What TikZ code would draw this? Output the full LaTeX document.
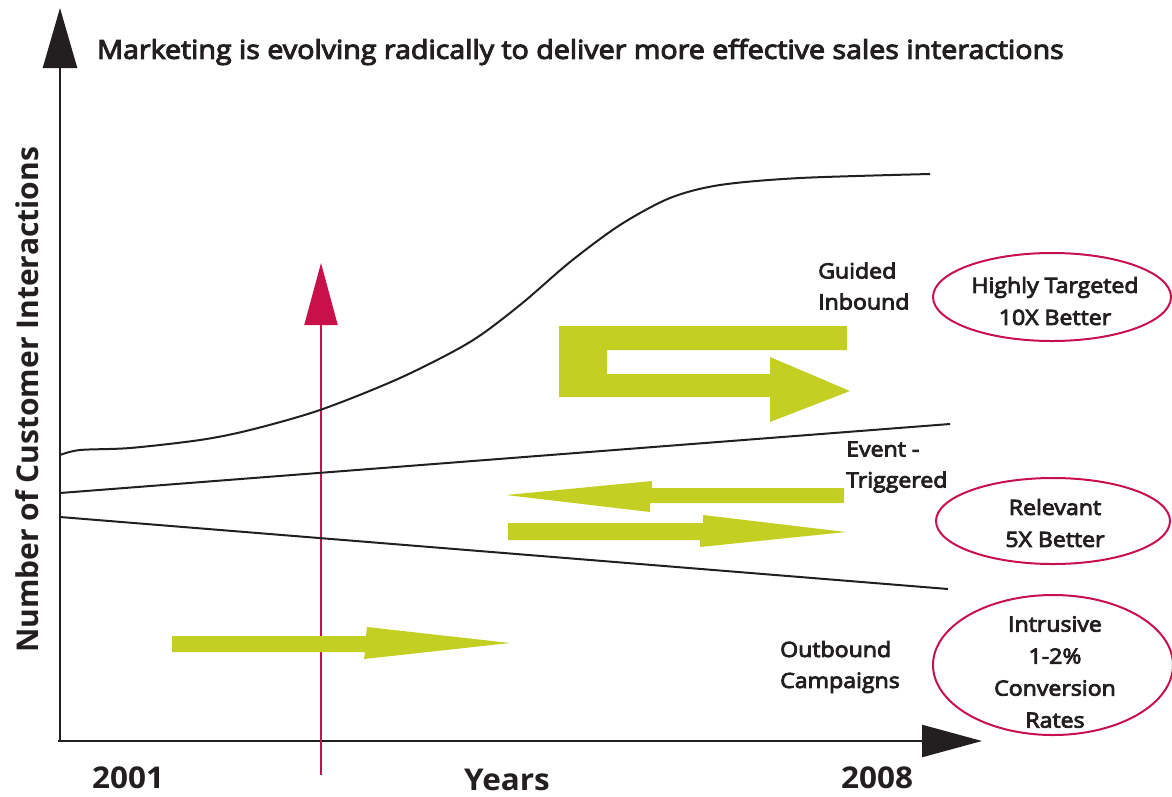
\documentclass[tikz,border=0pt]{standalone}
\usepackage{fontspec}
\setmainfont{Open Sans}[FakeBold=4, FakeStretch=1.1]
\newfontfamily\axfont{Open Sans}[FakeStretch=1.05]
\newfontfamily\ylfont{Open Sans}
\usetikzlibrary{shapes.geometric,arrows.meta}
\definecolor{ink}{RGB}{35,31,32}
\definecolor{lime}{RGB}{195,207,35}
\definecolor{crim}{RGB}{200,16,74}
\begin{document}
\begin{tikzpicture}[x=1pt,y=-1pt,
  every node/.style={text=ink, inner sep=0pt},
  lbl/.style={font=\fontsize{21}{31}\selectfont, align=left, anchor=west},
  axlbl/.style={font=\axfont\fontsize{30}{34}\selectfont\bfseries},
  oval/.style={ellipse, draw=crim, line width=2pt},
  ovaltext/.style={font=\fontsize{21}{32}\selectfont, align=center},
  green/.style={fill=lime, draw=none},
  axis/.style={draw=ink, line width=2.5pt}]
\useasboundingbox (0,0) rectangle (1172,796);
% axes
\coordinate (o) at (60,741);
\coordinate (ytip) at (60,8);
\coordinate (xtip) at (982,741);
\draw[axis, -{Triangle[length=60pt,width=34pt]}] (60,742) -- (ytip);
\draw[axis, -{Triangle[length=60pt,width=32pt]}] (58,741) -- (xtip);
% red marker
\coordinate (rb) at (321,775);
\coordinate (rt) at (321,263);
\draw[crim, line width=2pt, -{Triangle[length=62pt,width=33pt]}] (rb) -- (rt);
% curves
\draw[ink, line width=2pt] plot[smooth, tension=0.5] coordinates {(60,455) (80,450) (130,448) (200,440) (250,430) (320,410) (400,378) (470,342) (520,305) (570,262) (620,225) (670,198) (720,185) (800,178) (930,174)};
\coordinate (l1a) at (60,493); \coordinate (l1b) at (950,424);
\coordinate (l2a) at (60,517); \coordinate (l2b) at (948,589);
\draw[ink, line width=2pt] (l1a) -- (l1b);
\draw[ink, line width=2pt] (l2a) -- (l2b);
% green arrows
\fill[green] (172,636)--(366,636)--(367,627)--(510,643)--(364,659)--(365,652)--(172,652)--cycle;
\fill[green] (844,488)--(652,488)--(652,481)--(506,495)--(650,512)--(650,503)--(844,503)--cycle;
\fill[green] (508,523)--(703,523)--(703,515)--(846,532)--(700,547)--(700,540)--(508,540)--cycle;
\fill[green] (559,326)--(847,326)--(847,350)--(607,350)--(607,374)--(770,374)--(770,357)--(850,391)--(770,422)--(770,397)--(559,397)--cycle;
% texts
\node[anchor=west, font=\fontsize{26}{30}\selectfont] (title) at (97,52) {Marketing is evolving radically to deliver more effective sales interactions};
\node[font=\ylfont\fontsize{30}{34}\selectfont\bfseries, rotate=90] (ylab) at (27,400) {Number of Customer Interactions};
\node[axlbl] (y1) at (128,778) {2001};
\node[axlbl] (yrs) at (507,780) {Years};
\node[axlbl] (y2) at (877,778) {2008};
\node[lbl] (gi) at (818,286) {Guided\\Inbound};
\node[lbl] (et) at (846,467) {Event -\\Triggered};
\node[lbl] (oc) at (780,667) {Outbound\\Campaigns};
\node[oval, minimum width=238pt, minimum height=88pt] (e1) at (1052,297) {};
\node[oval, minimum width=234pt, minimum height=86pt] (e2) at (1053,521) {};
\node[oval, minimum width=240pt, minimum height=140pt] (e3) at (1053,665) {};
\node[ovaltext] (t1) at (1055,301) {Highly Targeted\\10X Better};
\node[ovaltext] (t2) at (1055,523) {Relevant\\5X Better};
\node[ovaltext] (t3) at (1055,672) {Intrusive\\1-2\%\\Conversion\\Rates};
\end{tikzpicture}
\end{document}
